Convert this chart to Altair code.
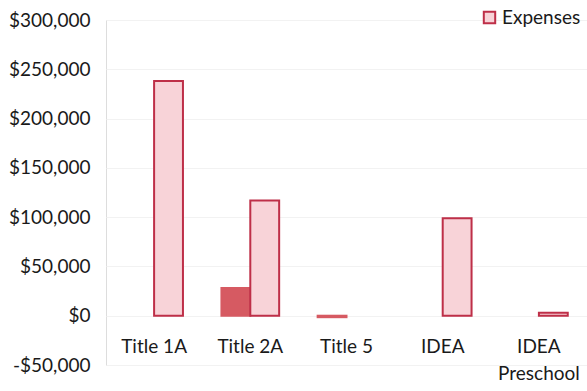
import altair as alt
import pandas as pd

# Grant programs and amounts per series (None = no bar)
programs = ["Title 1A", "Title 2A", "Title 5", "IDEA", "IDEA Preschool"]
revenue = [None, 28000, -1500, None, None]
expenses = [238000, 117000, None, 99000, 3000]
series_names = ["Revenue", "Expenses"]
y_ticks = [-50000, 0, 50000, 100000, 150000, 200000, 250000, 300000]

rows = []
for name, vals in zip(series_names, [revenue, expenses]):
    for prog, v in zip(programs, vals):
        if v is not None:
            rows.append({"program": prog, "series": name, "amount": v})
df = pd.DataFrame(rows)

FONT = "Lato"
DARK_FILL = "#D65A62"
PINK_FILL = "#F8D3D8"
EDGE = "#BE2F48"

W, H = 481, 345
zero_offset = -H * 50000 / 350000

bars = alt.Chart(df).mark_bar(strokeWidth=2).encode(
    x=alt.X(
        "program:N",
        sort=programs,
        title=None,
        scale=alt.Scale(paddingInner=0.4, paddingOuter=0.2),
        axis=alt.Axis(
            domain=False,
            ticks=False,
            grid=False,
            labelAngle=0,
            labelFont=FONT,
            labelFontSize=19,
            labelColor="#1a1a1a",
            labelPadding=22,
            labelBaseline="top",
            labelLineHeight=27,
            offset=zero_offset,
            labelExpr="datum.label == 'IDEA Preschool' ? ['IDEA', 'Preschool'] : datum.label",
        ),
    ),
    xOffset=alt.XOffset("series:N", sort=series_names, scale=alt.Scale(paddingInner=0, paddingOuter=0)),
    y=alt.Y(
        "amount:Q",
        title=None,
        scale=alt.Scale(domain=[-50000, 300000], nice=False),
        axis=alt.Axis(
            values=y_ticks,
            domain=False,
            ticks=False,
            grid=True,
            gridColor="#f2f2f2",
            gridWidth=1,
            labelFont=FONT,
            labelFontSize=19,
            labelColor="#1a1a1a",
            labelPadding=16,
            labelExpr="datum.value < 0 ? '-$' + format(-datum.value, ',') : '$' + format(datum.value, ',')",
        ),
    ),
    fill=alt.Fill(
        "series:N",
        sort=series_names,
        scale=alt.Scale(domain=series_names, range=[DARK_FILL, PINK_FILL]),
        legend=alt.Legend(
            title=None,
            values=["Expenses"],
            orient="none",
            legendX=374,
            legendY=-12,
            symbolType="square",
            symbolSize=130,
            symbolStrokeColor=EDGE,
            symbolStrokeWidth=2,
            labelFont=FONT,
            labelFontSize=19,
            labelColor="#1a1a1a",
            labelOffset=3,
            padding=0,
        ),
    ),
    stroke=alt.Stroke(
        "series:N",
        sort=series_names,
        scale=alt.Scale(domain=series_names, range=[DARK_FILL, EDGE]),
        legend=None,
    ),
)

chart = bars.properties(
    width=W,
    height=H,
    autosize=alt.AutoSizeParams(type="none"),
    padding={"left": 106, "top": 20, "right": 0, "bottom": 26},
).configure_view(stroke=None).configure(background="white")

chart.save("out.html", embed_options={"renderer": "svg", "actions": False})
